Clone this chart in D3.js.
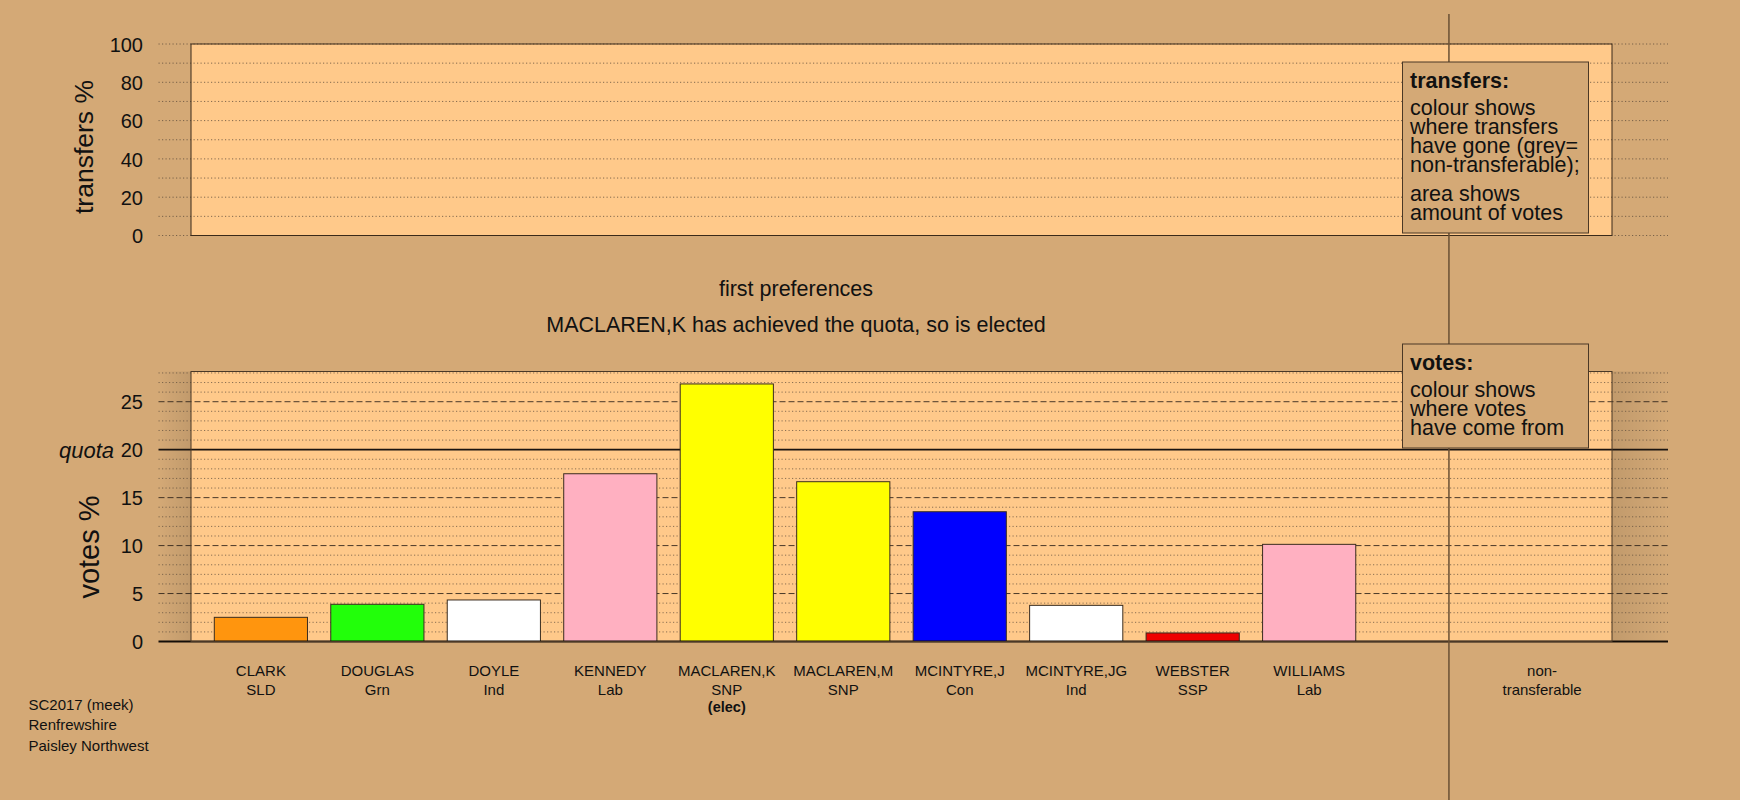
<!DOCTYPE html>
<html>
<head>
<meta charset="utf-8">
<script src="https://cdn.jsdelivr.net/npm/d3@7"></script>
<style>
  html, body { margin: 0; padding: 0; background: #D4A976; }
  svg { display: block; }
  text { font-family: "Liberation Sans", Arial, Helvetica, sans-serif; fill: #111; }
</style>
</head>
<body>
<svg id="chart" width="1740" height="800"></svg>
<script>
// First-preference votes, Paisley Northwest (Renfrewshire), SC2017
const candidates = ["CLARK", "DOUGLAS", "DOYLE", "KENNEDY", "MACLAREN,K", "MACLAREN,M", "MCINTYRE,J", "MCINTYRE,JG", "WEBSTER", "WILLIAMS"];
const parties = ["SLD", "Grn", "Ind", "Lab", "SNP", "SNP", "Con", "Ind", "SSP", "Lab"];
const firstPrefs = [2.52, 3.88, 4.33, 17.49, 26.85, 16.66, 13.53, 3.77, 0.89, 10.13];
const partyColours = ["#FF950E", "#22FF0A", "#FFFFFF", "#FFB0C1", "#FFFF00", "#FFFF00", "#0000FF", "#FFFFFF", "#EE0000", "#FFB0C1"];
const status = ["", "", "", "", "(elec)", "", "", "", "", ""];
const transferTicks = [0, 20, 40, 60, 80, 100];
const voteTicks = [0, 5, 10, 15, 20, 25];
const quota = 20;
const headings = ["first preferences", "MACLAREN,K has achieved the quota, so is elected"];
const footer = ["SC2017 (meek)", "Renfrewshire", "Paisley Northwest"];
const transfersKey = ["colour shows", "where transfers", "have gone (grey=", "non-transferable);"];
const transfersKey2 = ["area shows", "amount of votes"];
const votesKey = ["colour shows", "where votes", "have come from"];

const BG = "#D4A976", PANEL = "#FFC98A", INK = "#111";
const svg = d3.select("#chart");

// slots: 10 candidates, one spacer, non-transferable column
const x = d3.scaleBand().domain(d3.range(candidates.length + 2))
  .range([191, 1612]).paddingInner(0.2).paddingOuter(0.2);
const yTop = d3.scaleLinear().domain([0, 100]).range([235.5, 44]);
const yBot = d3.scaleLinear().domain([0, 28.15]).range([641.5, 371.5]);
const gx0 = 158.5, gx1 = 1668;
const px0 = x.range()[0], px1 = x.range()[1];

svg.append("rect").attr("width", 1740).attr("height", 800).attr("fill", BG);

// shading either side of the votes panel
const defs = svg.append("defs");
function grad(id, from, to) {
  const g = defs.append("linearGradient").attr("id", id).attr("x1", from).attr("x2", to).attr("y1", 0).attr("y2", 0);
  g.append("stop").attr("offset", 0).attr("stop-color", "#000").attr("stop-opacity", 0.09);
  g.append("stop").attr("offset", 1).attr("stop-color", "#000").attr("stop-opacity", 0.0);
}
grad("shadeR", 0, 1);
grad("shadeL", 1, 0);
svg.append("rect").attr("x", gx0).attr("y", yBot.range()[1]).attr("width", px0 - gx0)
  .attr("height", yBot(0) - yBot.range()[1]).attr("fill", "url(#shadeL)");
svg.append("rect").attr("x", px1).attr("y", yBot.range()[1]).attr("width", gx1 - px1)
  .attr("height", yBot(0) - yBot.range()[1]).attr("fill", "url(#shadeR)");

// panel backgrounds
svg.append("rect").attr("x", px0).attr("y", yTop(100)).attr("width", px1 - px0)
  .attr("height", yTop(0) - yTop(100)).attr("fill", PANEL);
svg.append("rect").attr("x", px0).attr("y", yBot.range()[1]).attr("width", px1 - px0)
  .attr("height", yBot(0) - yBot.range()[1]).attr("fill", PANEL);

// transfers panel grid
const gTop = svg.append("g");
gTop.selectAll("line").data(d3.range(0, 101, 10)).join("line")
  .attr("x1", gx0).attr("x2", gx1).attr("y1", d => yTop(d)).attr("y2", d => yTop(d))
  .attr("stroke", "#5a4a3a").attr("stroke-opacity", 0.75).attr("stroke-width", 1)
  .attr("stroke-dasharray", "1.2,2.3");

// votes panel grid: dotted every 1, dashed every 5
const gBot = svg.append("g");
gBot.selectAll("line.minor").data(d3.range(1, 29).filter(v => v % 5 !== 0)).join("line")
  .attr("class", "minor")
  .attr("x1", gx0).attr("x2", gx1).attr("y1", d => yBot(d)).attr("y2", d => yBot(d))
  .attr("stroke", "#5a4a3a").attr("stroke-opacity", 0.7).attr("stroke-width", 1)
  .attr("stroke-dasharray", "1.2,2.3");
gBot.selectAll("line.major").data(voteTicks.filter(v => v > 0 && v !== quota)).join("line")
  .attr("class", "major")
  .attr("x1", gx0).attr("x2", gx1).attr("y1", d => yBot(d)).attr("y2", d => yBot(d))
  .attr("stroke", "#2a2018").attr("stroke-opacity", 0.85).attr("stroke-width", 1)
  .attr("stroke-dasharray", "6,3");
gBot.append("line").attr("x1", gx0).attr("x2", gx1).attr("y1", yBot(quota)).attr("y2", yBot(quota))
  .attr("stroke", "#1a1410").attr("stroke-width", 1.6);

// first-preference bars
svg.append("g").selectAll("rect").data(firstPrefs).join("rect")
  .attr("x", (d, i) => x(i)).attr("width", x.bandwidth())
  .attr("y", d => yBot(d)).attr("height", d => yBot(0) - yBot(d))
  .attr("fill", (d, i) => partyColours[i])
  .attr("stroke", "#3a2c1e").attr("stroke-width", 1);

svg.append("line").attr("x1", gx0).attr("x2", gx1).attr("y1", yBot(0)).attr("y2", yBot(0))
  .attr("stroke", "#140e08").attr("stroke-width", 2.2);

// panel borders
svg.append("rect").attr("x", px0).attr("y", yTop(100)).attr("width", px1 - px0)
  .attr("height", yTop(0) - yTop(100)).attr("fill", "none").attr("stroke", "#3a2a1a").attr("stroke-width", 1);
svg.append("rect").attr("x", px0).attr("y", yBot.range()[1]).attr("width", px1 - px0)
  .attr("height", yBot(0) - yBot.range()[1]).attr("fill", "none").attr("stroke", "#4a3826").attr("stroke-width", 1);

// divider before the non-transferable column
const divX = x(candidates.length) + x.bandwidth() * 0.75;
svg.append("line").attr("x1", divX).attr("x2", divX).attr("y1", 14).attr("y2", 800)
  .attr("stroke", "#6a5034").attr("stroke-width", 1.5);

// y axes
const axTop = svg.append("g").attr("transform", "translate(143,0)")
  .call(d3.axisLeft(yTop).tickValues(transferTicks).tickSize(0).tickPadding(0));
const axBot = svg.append("g").attr("transform", "translate(143,0)")
  .call(d3.axisLeft(yBot).tickValues(voteTicks).tickSize(0).tickPadding(0));
[axTop, axBot].forEach(a => {
  a.select(".domain").remove();
  a.selectAll("text").attr("font-size", 20).attr("fill", INK).attr("dy", "0.36em")
    .attr("font-family", "'Liberation Sans', Arial, sans-serif");
});
svg.append("text").attr("x", 114).attr("y", yBot(quota)).attr("dy", "0.36em")
  .attr("text-anchor", "end").attr("font-size", 22).attr("font-style", "italic").text("quota");

svg.append("text").attr("transform", "translate(93,147) rotate(-90)")
  .attr("text-anchor", "middle").attr("font-size", 26.5).text("transfers %");
svg.append("text").attr("transform", "translate(99,547) rotate(-90)")
  .attr("text-anchor", "middle").attr("font-size", 29).text("votes %");

// headings between the panels
svg.selectAll("text.head").data(headings).join("text").attr("class", "head")
  .attr("x", 796).attr("y", (d, i) => 296 + i * 36)
  .attr("text-anchor", "middle").attr("font-size", 21.5).text(d => d);

// candidate labels
const lab = svg.append("g").selectAll("g").data(candidates).join("g")
  .attr("transform", (d, i) => `translate(${x(i) + x.bandwidth() / 2},0)`);
lab.append("text").attr("y", 675.5).attr("text-anchor", "middle").attr("font-size", 15).text(d => d);
lab.append("text").attr("y", 694.5).attr("text-anchor", "middle").attr("font-size", 15).text((d, i) => parties[i]);
lab.append("text").attr("y", 712).attr("text-anchor", "middle").attr("font-size", 14.5)
  .attr("font-weight", "bold").text((d, i) => status[i]);

const ntX = x(candidates.length + 1) + x.bandwidth() / 2;
svg.append("text").attr("x", ntX).attr("y", 675.5).attr("text-anchor", "middle").attr("font-size", 15).text("non-");
svg.append("text").attr("x", ntX).attr("y", 694.5).attr("text-anchor", "middle").attr("font-size", 15).text("transferable");

// footer
svg.selectAll("text.foot").data(footer).join("text").attr("class", "foot")
  .attr("x", 28.5).attr("y", (d, i) => 710 + i * 20.3).attr("font-size", 15).text(d => d);

// key boxes
function keyBox(y0, h, title, paras) {
  const g = svg.append("g");
  g.append("rect").attr("x", 1402.5).attr("y", y0).attr("width", 186).attr("height", h)
    .attr("fill", BG).attr("stroke", "#4a3826").attr("stroke-width", 1);
  g.append("text").attr("x", 1410).attr("y", y0 + 26).attr("font-size", 21.5)
    .attr("font-weight", "bold").text(title);
  let yy = y0 + 53;
  paras.forEach((p, k) => {
    if (k > 0) yy += 10;
    p.forEach(line => {
      g.append("text").attr("x", 1410).attr("y", yy).attr("font-size", 21.5).text(line);
      yy += 18.9;
    });
  });
}
keyBox(62, 171, "transfers:", [transfersKey, transfersKey2]);
keyBox(344, 104, "votes:", [votesKey]);
</script>
</body>
</html>
